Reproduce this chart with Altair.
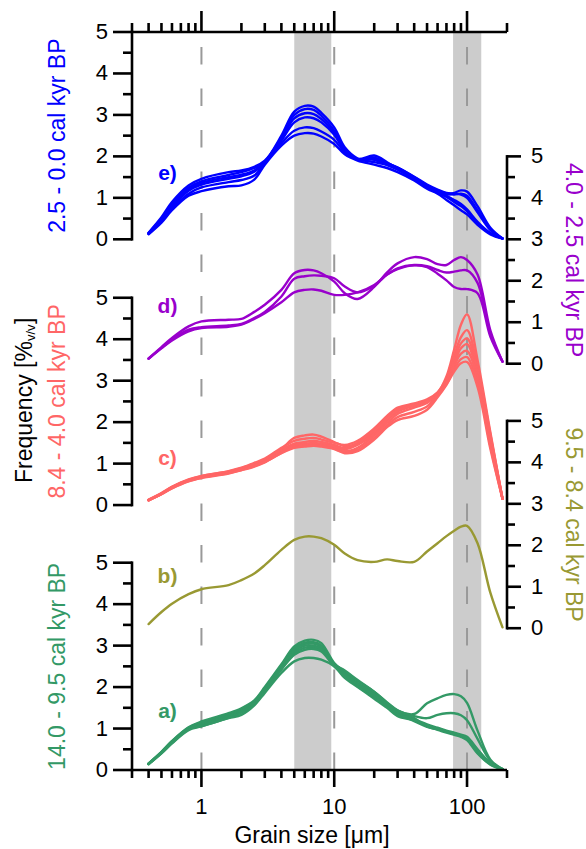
import altair as alt
import pandas as pd

# ---------------- data ----------------
GRAIN_SIZE = [0.4, 0.5, 0.6, 0.8, 1, 1.6, 2, 2.5, 3, 4, 5, 6, 7, 8, 10, 12, 15, 20,
              25, 30, 40, 50, 60, 70, 80, 90, 100, 120, 150, 185]

CURVES_A = [
    [0.16, 0.44, 0.70, 1.03, 1.17, 1.37, 1.49, 1.68, 2.00, 2.55, 2.98, 3.12, 3.14, 3.06, 2.58, 2.35, 2.10, 1.85, 1.60, 1.40, 1.25, 1.05, 0.98, 0.93, 0.88, 0.82, 0.75, 0.42, 0.14, 0.02],
    [0.15, 0.43, 0.69, 1.02, 1.15, 1.35, 1.47, 1.66, 1.98, 2.52, 2.93, 3.07, 3.08, 3.00, 2.56, 2.38, 2.15, 1.88, 1.62, 1.43, 1.35, 1.61, 1.73, 1.81, 1.83, 1.78, 1.62, 0.95, 0.25, 0.02],
    [0.15, 0.43, 0.68, 1.01, 1.12, 1.32, 1.44, 1.64, 1.96, 2.50, 2.90, 3.04, 3.05, 2.97, 2.55, 2.40, 2.17, 1.89, 1.63, 1.44, 1.30, 1.25, 1.33, 1.37, 1.37, 1.32, 1.20, 0.75, 0.22, 0.02],
    [0.15, 0.42, 0.67, 1.00, 1.10, 1.30, 1.42, 1.62, 1.95, 2.48, 2.86, 3.00, 3.00, 2.93, 2.54, 2.32, 2.08, 1.82, 1.58, 1.38, 1.18, 1.04, 0.97, 0.90, 0.85, 0.80, 0.72, 0.40, 0.13, 0.02],
    [0.15, 0.42, 0.66, 0.99, 1.08, 1.28, 1.40, 1.60, 1.93, 2.45, 2.82, 2.95, 2.96, 2.90, 2.52, 2.30, 2.05, 1.78, 1.55, 1.35, 1.20, 1.06, 0.99, 0.92, 0.87, 0.83, 0.77, 0.46, 0.15, 0.02],
    [0.14, 0.41, 0.65, 0.98, 1.06, 1.26, 1.38, 1.58, 1.90, 2.42, 2.78, 2.90, 2.92, 2.86, 2.50, 2.28, 2.02, 1.75, 1.52, 1.33, 1.22, 1.10, 1.02, 0.95, 0.90, 0.85, 0.80, 0.50, 0.17, 0.02],
    [0.14, 0.40, 0.64, 0.96, 1.05, 1.25, 1.33, 1.56, 1.86, 2.34, 2.62, 2.70, 2.70, 2.66, 2.50, 2.22, 2.00, 1.72, 1.50, 1.30, 1.20, 1.08, 1.00, 0.93, 0.88, 0.83, 0.78, 0.48, 0.16, 0.02],
]

CURVES_B = [
    [0.10, 0.39, 0.59, 0.82, 0.94, 1.04, 1.16, 1.32, 1.52, 1.89, 2.13, 2.21, 2.21, 2.17, 2.01, 1.80, 1.64, 1.60, 1.66, 1.62, 1.60, 1.85, 2.05, 2.22, 2.35, 2.45, 2.47, 2.05, 0.85, 0.02],
]

CURVES_C = [
    [0.12, 0.28, 0.43, 0.60, 0.68, 0.80, 0.88, 0.98, 1.08, 1.35, 1.62, 1.68, 1.70, 1.65, 1.52, 1.42, 1.48, 1.75, 2.05, 2.25, 2.40, 2.52, 2.70, 3.10, 3.75, 4.35, 4.60, 3.50, 1.75, 0.15],
    [0.12, 0.28, 0.44, 0.61, 0.70, 0.82, 0.90, 1.02, 1.12, 1.38, 1.55, 1.60, 1.62, 1.58, 1.50, 1.45, 1.55, 1.85, 2.15, 2.35, 2.45, 2.55, 2.72, 3.05, 3.60, 4.05, 4.22, 3.35, 1.70, 0.15],
    [0.13, 0.29, 0.44, 0.62, 0.70, 0.81, 0.89, 1.00, 1.10, 1.33, 1.48, 1.52, 1.55, 1.52, 1.45, 1.38, 1.50, 1.80, 2.12, 2.32, 2.42, 2.52, 2.70, 3.00, 3.50, 3.90, 4.02, 3.25, 1.65, 0.15],
    [0.12, 0.27, 0.42, 0.60, 0.68, 0.79, 0.87, 0.96, 1.06, 1.30, 1.45, 1.48, 1.50, 1.48, 1.42, 1.35, 1.45, 1.72, 2.05, 2.28, 2.40, 2.50, 2.68, 2.98, 3.42, 3.78, 3.88, 3.15, 1.58, 0.15],
    [0.12, 0.27, 0.42, 0.59, 0.67, 0.78, 0.86, 0.95, 1.05, 1.28, 1.42, 1.46, 1.48, 1.46, 1.40, 1.30, 1.38, 1.68, 1.98, 2.20, 2.35, 2.46, 2.66, 2.95, 3.35, 3.65, 3.72, 3.05, 1.50, 0.15],
    [0.11, 0.27, 0.41, 0.58, 0.66, 0.77, 0.85, 0.94, 1.04, 1.26, 1.40, 1.43, 1.45, 1.43, 1.36, 1.27, 1.33, 1.62, 1.92, 2.12, 2.25, 2.38, 2.64, 2.92, 3.28, 3.52, 3.57, 2.95, 1.42, 0.15],
    [0.11, 0.26, 0.40, 0.57, 0.65, 0.76, 0.84, 0.93, 1.03, 1.25, 1.38, 1.41, 1.43, 1.41, 1.35, 1.25, 1.30, 1.58, 1.88, 2.05, 2.15, 2.30, 2.60, 2.90, 3.22, 3.42, 3.45, 2.85, 1.35, 0.15],
]

CURVES_D = [
    [0.13, 0.40, 0.62, 0.90, 1.02, 1.06, 1.08, 1.25, 1.42, 1.78, 2.18, 2.26, 2.25, 2.18, 1.98, 1.70, 1.56, 1.85, 2.20, 2.42, 2.57, 2.52, 2.40, 2.38, 2.50, 2.57, 2.50, 2.15, 0.80, 0.05],
    [0.12, 0.38, 0.58, 0.82, 0.88, 0.92, 0.96, 1.10, 1.25, 1.62, 2.05, 2.11, 2.13, 2.12, 2.06, 1.86, 1.72, 1.88, 2.15, 2.30, 2.38, 2.35, 2.26, 2.20, 2.22, 2.25, 2.25, 1.95, 0.72, 0.05],
    [0.12, 0.37, 0.56, 0.78, 0.86, 0.89, 0.94, 1.08, 1.22, 1.48, 1.72, 1.78, 1.79, 1.76, 1.66, 1.66, 1.72, 1.90, 2.15, 2.28, 2.37, 2.33, 2.17, 2.01, 1.85, 1.80, 1.80, 1.70, 0.65, 0.05],
]

CURVES_E = [
    [0.15, 0.50, 0.85, 1.25, 1.40, 1.55, 1.62, 1.72, 1.88, 2.50, 3.08, 3.22, 3.20, 3.05, 2.70, 2.22, 1.95, 1.86, 1.80, 1.72, 1.48, 1.28, 1.15, 1.05, 0.95, 0.85, 0.72, 0.42, 0.15, 0.02],
    [0.14, 0.46, 0.78, 1.17, 1.32, 1.46, 1.52, 1.63, 1.85, 2.46, 3.00, 3.14, 3.12, 2.98, 2.62, 2.18, 1.94, 2.02, 1.86, 1.70, 1.45, 1.25, 1.12, 1.02, 0.90, 0.80, 0.68, 0.38, 0.14, 0.02],
    [0.16, 0.53, 0.90, 1.30, 1.46, 1.62, 1.66, 1.75, 1.90, 2.42, 2.92, 3.04, 3.02, 2.90, 2.56, 2.16, 1.93, 1.96, 1.83, 1.73, 1.50, 1.30, 1.18, 1.10, 1.08, 1.10, 1.05, 0.70, 0.24, 0.02],
    [0.15, 0.48, 0.82, 1.20, 1.36, 1.50, 1.56, 1.66, 1.86, 2.38, 2.82, 2.94, 2.92, 2.82, 2.52, 2.14, 1.92, 1.92, 1.79, 1.68, 1.46, 1.28, 1.16, 1.08, 1.12, 1.18, 1.15, 0.80, 0.28, 0.02],
    [0.13, 0.43, 0.73, 1.10, 1.25, 1.38, 1.43, 1.54, 1.83, 2.32, 2.62, 2.70, 2.68, 2.60, 2.40, 2.10, 1.92, 1.97, 1.84, 1.73, 1.51, 1.32, 1.20, 1.12, 1.10, 1.08, 1.00, 0.65, 0.22, 0.02],
    [0.12, 0.40, 0.70, 1.05, 1.16, 1.28, 1.30, 1.44, 1.80, 2.26, 2.50, 2.56, 2.55, 2.48, 2.30, 2.05, 1.90, 1.80, 1.72, 1.62, 1.42, 1.22, 1.10, 0.95, 0.82, 0.70, 0.60, 0.35, 0.12, 0.02],
]

PANELS = ["a", "b", "c", "d", "e"]
PANEL_CURVES = [CURVES_A, CURVES_B, CURVES_C, CURVES_D, CURVES_E]
PANEL_OFFSETS = [0.0, 3.42, 6.39, 9.8, 12.8]
PANEL_COLORS = ["#339966", "#999933", "#ff6666", "#9900cc", "#0000ff"]
PANEL_TITLES = ["14.0 - 9.5 cal kyr BP", "9.5 - 8.4 cal kyr BP", "8.4 - 4.0 cal kyr BP",
                "4.0 - 2.5 cal kyr BP", "2.5 - 0.0 cal kyr BP"]
PANEL_SIDES = ["left", "right", "left", "right", "left"]
PANEL_LABELS = ["a)", "b)", "c)", "d)", "e)"]
PANEL_LABEL_X = 0.555
PANEL_LABEL_Y = [1.40, 1.23, 1.11, 1.36, 1.57]

Y_TICKS = [0, 1, 2, 3, 4, 5]
Y_TICK_LABELS = ["0", "1", "2", "3", "4", "5"]
Y_MINOR = [0.5, 1.5, 2.5, 3.5, 4.5]
PANEL_SPAN = 5

X_MAJOR = [1, 10, 100]
X_MAJOR_LABELS = ["1", "10", "100"]
X_MINOR = [0.3, 0.4, 0.5, 0.6, 0.7, 0.8, 0.9, 2, 3, 4, 5, 6, 7, 8, 9,
           20, 30, 40, 50, 60, 70, 80, 90, 200]
X_DOMAIN = [0.3, 200]
DASHED_AT = [1, 10, 100]
BAND_FROM = [5, 78.5]
BAND_TO = [9.5, 128]
Y_TOP = 17.8

X_TITLE = "Grain size [μm]"
Y_TITLE_MAIN = "Frequency [%"
Y_TITLE_SUB = "v/v"
Y_TITLE_END = "]"

# ---------------- build tables ----------------
rows = []
for p, curves, off in zip(PANELS, PANEL_CURVES, PANEL_OFFSETS):
    for i, vals in enumerate(curves):
        for x, v in zip(GRAIN_SIZE, vals):
            rows.append({"panel": p, "curve": f"{p}{i}", "x": x, "y": v + off})
curve_df = pd.DataFrame(rows)

W, H = 375, 738
FONT = "Liberation Sans"
XS = alt.Scale(type="log", domain=X_DOMAIN)
YS = alt.Scale(domain=[0, Y_TOP])
CS = alt.Scale(domain=PANELS, range=PANEL_COLORS)


def X(f):
    return alt.X(f, type="quantitative", scale=XS, axis=None)


def Y(f):
    return alt.Y(f, type="quantitative", scale=YS, axis=None)


def COL():
    return alt.Color("panel:N", scale=CS, legend=None)


bands = alt.Chart(pd.DataFrame({"x0": BAND_FROM, "x1": BAND_TO, "y0": 0.0, "y1": Y_TOP})).mark_rect(
    color="#cccccc").encode(x=X("x0"), x2="x1", y=Y("y0"), y2="y1")

dashed = alt.Chart(pd.DataFrame({"x": DASHED_AT, "y0": 0.0, "y1": Y_TOP})).mark_rule(
    color="#999999", strokeWidth=2, strokeDash=[17.5, 24]).encode(x=X("x"), y=Y("y0"), y2="y1")

lines = alt.Chart(curve_df).mark_line(
    strokeWidth=2.4, interpolate="catmull-rom", strokeCap="round", strokeJoin="round").encode(
    x=X("x"), y=Y("y"), color=COL(), detail="curve:N")

layers = [bands, dashed, lines]

for side in ["left", "right"]:
    offs = [o for o, s in zip(PANEL_OFFSETS, PANEL_SIDES) if s == side]
    ax_x = 0 if side == "left" else W
    sign = -1 if side == "left" else 1
    major_len = 19 if side == "left" else 14
    minor_len = 9 if side == "left" else 8
    seg = pd.DataFrame({"y0": offs, "y1": [o + PANEL_SPAN for o in offs]})
    layers.append(alt.Chart(seg).mark_rule(color="black", strokeWidth=2.6, strokeCap="square").encode(
        x=alt.value(ax_x), y=Y("y0"), y2="y1"))
    maj = pd.DataFrame([{"y": o + t, "label": lab} for o in offs for t, lab in zip(Y_TICKS, Y_TICK_LABELS)])
    mnr = pd.DataFrame([{"y": o + t} for o in offs for t in Y_MINOR])
    layers.append(alt.Chart(maj).mark_rule(color="black", strokeWidth=2.6).encode(
        x=alt.value(ax_x), x2=alt.value(ax_x + sign * major_len), y=Y("y")))
    layers.append(alt.Chart(mnr).mark_rule(color="black", strokeWidth=2.6).encode(
        x=alt.value(ax_x), x2=alt.value(ax_x + sign * minor_len), y=Y("y")))
    layers.append(alt.Chart(maj).mark_text(
        align="right" if side == "left" else "left", baseline="middle", fontSize=22, font=FONT,
        color="black").encode(x=alt.value(ax_x + sign * 24), y=Y("y"), text="label:N"))

frame = pd.DataFrame({"x0": [X_DOMAIN[0]], "x1": [X_DOMAIN[1]]})
for yv in [0, H]:
    layers.append(alt.Chart(frame).mark_rule(color="black", strokeWidth=2.6).encode(
        x=X("x0"), x2="x1", y=alt.value(yv)))

xmaj = pd.DataFrame({"x": X_MAJOR, "label": X_MAJOR_LABELS})
xmin = pd.DataFrame({"x": X_MINOR})
layers.append(alt.Chart(xmaj).mark_rule(color="black", strokeWidth=2.6).encode(
    x=X("x"), y=alt.value(0), y2=alt.value(-21)))
layers.append(alt.Chart(xmin).mark_rule(color="black", strokeWidth=2.6).encode(
    x=X("x"), y=alt.value(0), y2=alt.value(-9)))
layers.append(alt.Chart(xmaj).mark_rule(color="black", strokeWidth=2.6).encode(
    x=X("x"), y=alt.value(H), y2=alt.value(H + 17)))
layers.append(alt.Chart(xmin).mark_rule(color="black", strokeWidth=2.6).encode(
    x=X("x"), y=alt.value(H), y2=alt.value(H + 8)))
layers.append(alt.Chart(xmaj).mark_text(align="center", baseline="middle", fontSize=22, font=FONT,
                                        color="black").encode(
    x=X("x"), y=alt.value(H + 37), text="label:N"))
layers.append(alt.Chart(pd.DataFrame({"t": [X_TITLE]})).mark_text(
    align="center", baseline="middle", fontSize=23, font=FONT, color="black").encode(
    x=alt.value(180), y=alt.value(H + 66), text="t:N"))

# rotated panel titles
title_df = pd.DataFrame({"panel": PANELS, "title": PANEL_TITLES, "side": PANEL_SIDES,
                         "y": [o + PANEL_SPAN / 2 for o in PANEL_OFFSETS]})
layers.append(alt.Chart(title_df[title_df.side == "left"]).mark_text(
    angle=270, align="center", baseline="middle", fontSize=23, font=FONT).encode(
    x=alt.value(-74), y=Y("y"), text="title:N", color=COL()))
layers.append(alt.Chart(title_df[title_df.side == "right"]).mark_text(
    angle=90, align="center", baseline="middle", fontSize=23, font=FONT).encode(
    x=alt.value(W + 66), y=Y("y"), text="title:N", color=COL()))

# Frequency [%v/v] title
layers.append(alt.Chart(pd.DataFrame({"t": [Y_TITLE_MAIN]})).mark_text(
    angle=270, align="left", baseline="middle", fontSize=23, font=FONT, color="black").encode(
    x=alt.value(-107), y=alt.value(451), text="t:N"))
layers.append(alt.Chart(pd.DataFrame({"t": [Y_TITLE_SUB]})).mark_text(
    angle=270, align="left", baseline="middle", fontSize=13, font=FONT, color="black").encode(
    x=alt.value(-101), y=alt.value(309), text="t:N"))
layers.append(alt.Chart(pd.DataFrame({"t": [Y_TITLE_END]})).mark_text(
    angle=270, align="left", baseline="middle", fontSize=23, font=FONT, color="black").encode(
    x=alt.value(-107), y=alt.value(292), text="t:N"))

# panel letters
lab_df = pd.DataFrame({"panel": PANELS, "label": PANEL_LABELS, "x": PANEL_LABEL_X,
                       "y": [o + v for o, v in zip(PANEL_OFFSETS, PANEL_LABEL_Y)]})
layers.append(alt.Chart(lab_df).mark_text(
    align="center", baseline="middle", fontSize=21, fontWeight="bold", font=FONT).encode(
    x=X("x"), y=Y("y"), text="label:N", color=COL()))

chart = alt.layer(*layers).properties(
    width=W, height=H,
    autosize=alt.AutoSizeParams(type="none"),
    padding={"left": 132, "top": 32, "right": 79, "bottom": 79},
).configure_view(stroke=None)

chart.save("out.html", embed_options={"renderer": "svg", "actions": False})
